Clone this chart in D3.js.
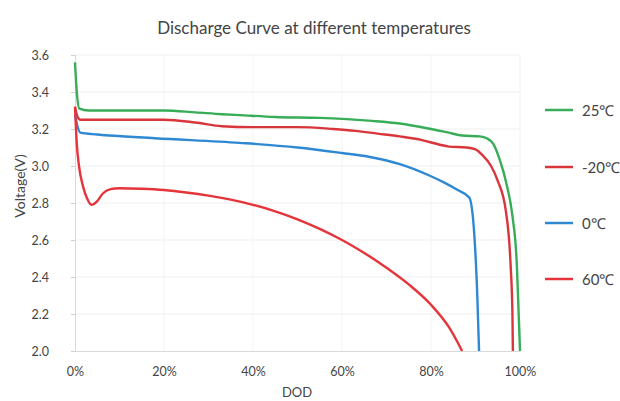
<!DOCTYPE html>
<html>
<head>
<meta charset="utf-8">
<script src="https://cdn.jsdelivr.net/npm/d3@7/dist/d3.min.js"></script>
<style>
  html, body { margin: 0; padding: 0; background: #fff; }
  svg { display: block; }
  text { font-family: Lato, "Open Sans", sans-serif; fill: #444; }
</style>
</head>
<body>
<svg id="chart" width="620" height="401"></svg>
<script>
// ---- data (DOD %, Voltage V) ----
const seriesNames = ["25℃", "-20℃", "0℃", "60℃"];
const xTicks = [0, 20, 40, 60, 80, 100];
const yTicks = [2.0, 2.2, 2.4, 2.6, 2.8, 3.0, 3.2, 3.4, 3.6];

const curve25 = [[0,3.56],[0.4,3.40],[1.0,3.31],[3,3.30],[20,3.30],[27,3.29],[33,3.28],[37,3.275],[45,3.265],[55,3.26],[60,3.255],[66,3.245],[73,3.23],[80,3.20],[84,3.18],[87,3.165],[91,3.16],[92.5,3.15],[94,3.12],[95.5,3.03],[97,2.90],[98.3,2.73],[99.3,2.46],[99.7,2.2],[100,2.0]];
const curveM20 = [[0,3.32],[0.5,3.27],[1.2,3.25],[20,3.25],[27,3.235],[33,3.215],[40,3.21],[50,3.21],[58,3.20],[63,3.19],[68,3.175],[73,3.16],[78,3.14],[82,3.115],[84,3.105],[88,3.10],[90,3.09],[91.5,3.06],[93.5,3.0],[95,2.92],[96.8,2.76],[97.9,2.46],[98.3,2.2],[98.4,2.0]];
const curve0 = [[0,3.28],[0.5,3.22],[1.2,3.18],[5,3.17],[18,3.15],[37,3.125],[50,3.10],[60,3.07],[66,3.05],[73,3.01],[79.5,2.95],[83,2.91],[86,2.87],[88.6,2.83],[89.7,2.64],[90.4,2.3],[90.8,2.0]];
const curve60 = [[0,3.32],[0.4,3.12],[0.9,3.0],[1.8,2.89],[2.8,2.82],[3.7,2.79],[5,2.81],[6.2,2.85],[8,2.875],[10,2.88],[15,2.877],[20,2.87],[25,2.857],[30,2.84],[35,2.818],[40,2.79],[45,2.755],[50,2.712],[55,2.66],[60,2.60],[65,2.53],[70,2.45],[75,2.36],[80,2.25],[84,2.13],[87,2.0]];

const seriesData = [curve25, curveM20, curve0, curve60];
const colors = ["#38ad58", "#d9363c", "#2f88d2", "#e5343a"];

// ---- layout ----
const svg = d3.select("#chart");
const x = d3.scaleLinear().domain([0, 100]).range([75, 520]);
const y = d3.scaleLinear().domain([2.0, 3.6]).range([351, 55]);

// gridlines
svg.append("g").selectAll("line").data(yTicks.slice(1)).join("line")
  .attr("x1", x(0)).attr("x2", x(100))
  .attr("y1", d => y(d)).attr("y2", d => y(d))
  .attr("stroke", "#efefef").attr("stroke-width", 1);
svg.append("g").selectAll("line").data(xTicks.slice(1)).join("line")
  .attr("x1", d => x(d)).attr("x2", d => x(d))
  .attr("y1", y(2.0)).attr("y2", y(3.6))
  .attr("stroke", "#f3f3f3").attr("stroke-width", 1);

// axes
const yAxis = d3.axisLeft(y).tickValues(yTicks).tickFormat(d3.format(".1f")).tickSize(4).tickPadding(22);
const gy = svg.append("g").attr("transform", `translate(${x(0)},0)`).call(yAxis);
gy.select(".domain").attr("stroke", "#d9d9d9");
gy.selectAll(".tick line").attr("stroke", "#d0d0d0");
gy.selectAll(".tick text").style("font-size", "12.5px").style("fill", "#444").style("font-family", "Lato, sans-serif");

const xAxis = d3.axisBottom(x).tickValues(xTicks).tickFormat(d => d + "%").tickSize(0).tickPadding(16);
const gx = svg.append("g").attr("transform", `translate(0,${y(2.0)})`).call(xAxis);
gx.select(".domain").attr("stroke", "#d9d9d9");
gx.selectAll(".tick text").style("font-size", "12.5px").style("fill", "#444").style("font-family", "Lato, sans-serif");

// lines
const line = d3.line().x(d => x(d[0])).y(d => y(d[1])).curve(d3.curveMonotoneX);
svg.append("g").selectAll("path").data(seriesData).join("path")
  .attr("d", line)
  .attr("fill", "none")
  .attr("stroke", (d, i) => colors[i])
  .attr("stroke-width", 2.4)
  .attr("stroke-linejoin", "round");

// title
svg.append("text").attr("x", 314).attr("y", 34).attr("text-anchor", "middle")
  .style("font-size", "17px").text("Discharge Curve at different temperatures");

// axis titles
svg.append("text").attr("transform", "translate(25,186) rotate(-90)").attr("text-anchor", "middle")
  .style("font-size", "14px").text("Voltage(V)");
svg.append("text").attr("x", 297).attr("y", 397).attr("text-anchor", "middle")
  .style("font-size", "13px").text("DOD");

// legend
const legendY = [110, 167, 223, 279];
const lg = svg.append("g").selectAll("g").data(seriesNames).join("g")
  .attr("transform", (d, i) => `translate(0,${legendY[i]})`);
lg.append("line").attr("x1", 545).attr("x2", 573).attr("y1", 0).attr("y2", 0)
  .attr("stroke", (d, i) => colors[i]).attr("stroke-width", 2.5);
lg.append("text").attr("x", 582).attr("y", 5.5).style("font-size", "15px").text(d => d);
</script>
</body>
</html>
